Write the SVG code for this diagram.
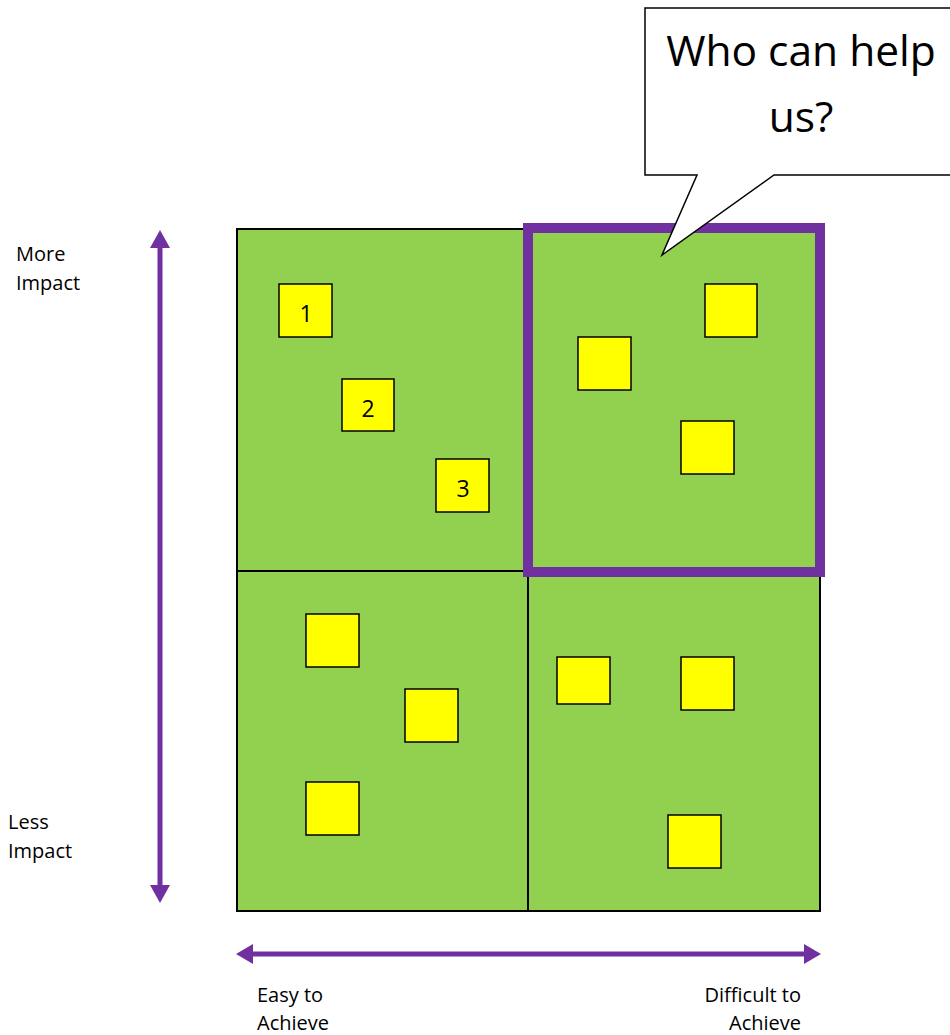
<svg xmlns="http://www.w3.org/2000/svg" width="950" height="1035" viewBox="0 0 950 1035">
<style>
.q{fill:#92d050;stroke:#000;stroke-width:2}
.s{fill:#ffff00;stroke:#000;stroke-width:1.5}
.t{font-family:"Open Sans","Liberation Sans",sans-serif;font-size:20px;fill:#000}
.n{font-family:"Open Sans","Liberation Sans",sans-serif;font-size:23px;fill:#000;text-anchor:middle}
.c{font-family:"Open Sans","Liberation Sans",sans-serif;font-size:42.5px;fill:#000;text-anchor:middle}
.ax{stroke:#7030a0;stroke-width:5;fill:none}
.ah{fill:#7030a0}
</style>
<rect width="950" height="1035" fill="#fff"/>
<g id="quadrants">
<rect class="q" x="237" y="229" width="291" height="342"/>
<rect class="q" x="528" y="229" width="292" height="342"/>
<rect class="q" x="237" y="571" width="291" height="340"/>
<rect class="q" x="528" y="571" width="292" height="340"/>
</g>
<g id="highlight"><rect x="528" y="228" width="292" height="344" fill="none" stroke="#7030a0" stroke-width="10"/></g>
<g id="items">
<g id="s1"><rect class="s" x="279" y="284" width="53" height="53"/><text class="n" x="306" y="322">1</text></g>
<g id="s2"><rect class="s" x="342" y="379" width="52" height="52"/><text class="n" x="368" y="417">2</text></g>
<g id="s3"><rect class="s" x="436" y="459" width="53" height="53"/><text class="n" x="463" y="497">3</text></g>
<g id="s4"><rect class="s" x="578" y="337" width="53" height="53"/></g>
<g id="s5"><rect class="s" x="705" y="284" width="52" height="53"/></g>
<g id="s6"><rect class="s" x="681" y="421" width="53" height="53"/></g>
<g id="s7"><rect class="s" x="306" y="614" width="53" height="53"/></g>
<g id="s8"><rect class="s" x="405" y="689" width="53" height="53"/></g>
<g id="s9"><rect class="s" x="306" y="782" width="53" height="53"/></g>
<g id="s10"><rect class="s" x="557" y="657" width="53" height="47"/></g>
<g id="s11"><rect class="s" x="681" y="657" width="53" height="53"/></g>
<g id="s12"><rect class="s" x="668" y="815" width="53" height="53"/></g>
</g>
<g id="callout">
<path d="M645,8 H952 V175 H774 L662,255 L697,175 H645 Z" fill="#fff" stroke="#000" stroke-width="1.5"/>
<text class="c" x="801" y="66">Who can help</text>
<text class="c" x="801" y="132">us?</text>
</g>
<g id="connectors">
<line class="ax" x1="160" y1="245" x2="160" y2="888"/>
<path class="ah" d="M160,230 L170,248 L150,248 Z"/>
<path class="ah" d="M160,903 L170,885 L150,885 Z"/>
<line class="ax" x1="252" y1="954" x2="806" y2="954"/>
<path class="ah" d="M236,954 L253,944 L253,964 Z"/>
<path class="ah" d="M821,954 L804,944 L804,964 Z"/>
</g>
<g id="labels">
<text class="t" x="16" y="261">More</text>
<text class="t" x="16" y="290">Impact</text>
<text class="t" x="8" y="829">Less</text>
<text class="t" x="8" y="858">Impact</text>
<text class="t" x="257" y="1002">Easy to</text>
<text class="t" x="257" y="1030">Achieve</text>
<text class="t" x="801" y="1002" text-anchor="end">Difficult to</text>
<text class="t" x="801" y="1030" text-anchor="end">Achieve</text>
</g>
</svg>
